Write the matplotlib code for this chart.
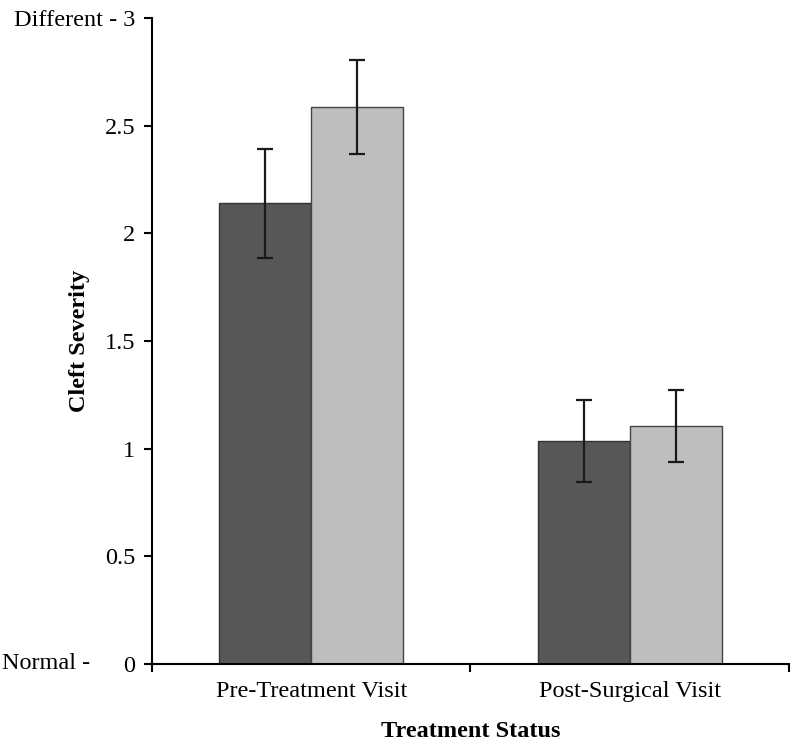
import numpy as np
import matplotlib.pyplot as plt

plt.rcParams['font.family'] = ['Liberation Serif', 'DejaVu Serif']

visits = ['Pre-Treatment Visit', 'Post-Surgical Visit']
dark_vals = [2.14, 1.035]
dark_err = [0.253, 0.19]
light_vals = [2.587, 1.105]
light_err = [0.22, 0.168]
yticks = [0, 0.5, 1, 1.5, 2, 2.5, 3]
ytick_labels = ['0', '0.5', '1', '1.5', '2', '2.5', 'Different - 3']

fig = plt.figure(figsize=(8, 7.49), dpi=100)
ax = fig.add_axes([0.19, 0.1135, 0.796, 0.8625])

x = np.arange(len(visits)) + 0.5
w = 0.289
ebar = dict(ecolor='#1a1a1a', elinewidth=1.6, capsize=5.5, capthick=1.6)
ax.bar(x - w / 2, dark_vals, w, color='#575757', edgecolor='#333333', linewidth=1,
       yerr=dark_err, error_kw=ebar)
ax.bar(x + w / 2, light_vals, w, color='#bebebe', edgecolor='#444444', linewidth=1,
       yerr=light_err, error_kw=ebar)

ax.set_xlim(0, 2)
ax.set_ylim(0, 3)
ax.set_yticks(yticks)
ax.set_yticklabels(ytick_labels, fontsize=17.5)
ax.set_xticks([0, 1, 2])
ax.set_xticklabels([])
ax.set_xticks(x, minor=True)
ax.set_xticklabels(visits, minor=True, fontsize=17.5)
ax.tick_params(axis='x', which='minor', length=0, pad=12)
ax.tick_params(axis='x', which='major', direction='out', length=6, width=1.5)
ax.tick_params(axis='y', direction='out', length=6, width=1.5, pad=6)

for s in ['top', 'right']:
    ax.spines[s].set_visible(False)
for s in ['left', 'bottom']:
    ax.spines[s].set_linewidth(1.5)

trans = ax.get_yaxis_transform().__class__(fig.transFigure, ax.transData)
ax.text(0.003, 0, 'Normal -', transform=trans, fontsize=17.5, va='center', ha='left')

ax.set_ylabel('Cleft Severity', fontsize=17.5, fontweight='bold')
ax.yaxis.set_label_coords(-0.098, 0.5)
ax.set_xlabel('Treatment Status', fontsize=17.5, fontweight='bold', labelpad=14)

fig.savefig('out.png', dpi=100)
